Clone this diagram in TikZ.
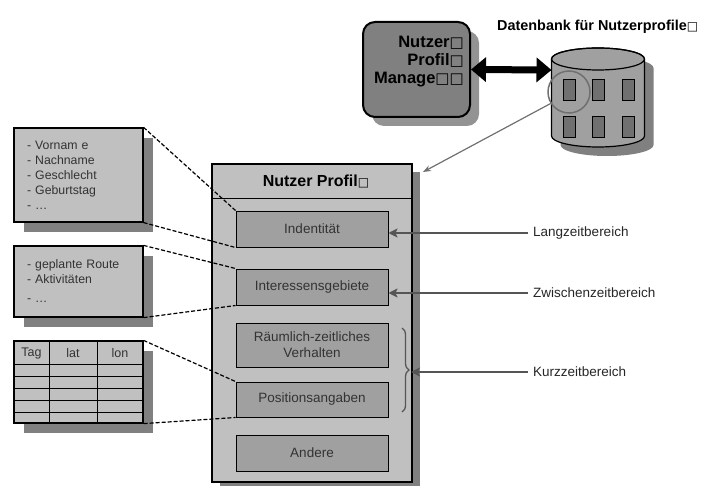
\documentclass[tikz,border=0pt]{standalone}
\usepackage{fontspec}
\setmainfont{Liberation Sans}
\newfontfamily\symf{DejaVu Sans}
\usetikzlibrary{arrows.meta,shadows,decorations.pathreplacing}
\definecolor{lg}{HTML}{C0C0C0}
\definecolor{mg}{HTML}{A0A0A0}
\definecolor{dg}{HTML}{808080}
\definecolor{wg}{HTML}{707070}
\definecolor{ag}{HTML}{555555}
\newcommand{\mbx}{{\symf\fontsize{15}{15}\selectfont □}}
\newcommand{\sbx}{{\symf\fontsize{12}{12}\selectfont □}}
\tikzset{
  lightbox/.style={draw=black, line width=1.2pt, fill=lg, inner sep=0pt,
     drop shadow={shadow xshift=10pt, shadow yshift=-10pt, fill=dg, opacity=1}},
  innerbox/.style={draw=black, line width=1pt, fill=mg, inner sep=0pt,
     minimum width=152pt, text=black!80, align=center,
     font=\fontsize{13.5}{16}\selectfont},
  leftbox/.style={lightbox, minimum width=129pt, text width=103pt, inner xsep=13pt,
     align=left, text=black!80, font=\fontsize{12.3}{15}\selectfont},
  dashline/.style={draw=black, line width=1.2pt, dash pattern=on 4pt off 2pt},
  timearrow/.style={draw=ag, line width=2pt, -{Stealth[length=9pt, width=9pt, inset=2pt]}},
  tlabel/.style={anchor=west, inner xsep=5pt, text=black!85, font=\fontsize{13.5}{16}\selectfont},
}
\begin{document}
\begin{tikzpicture}[x=1pt, y=-1pt]
\useasboundingbox (0,0) rectangle (708,486);

% ---------- profile manager ----------
\node[draw=black, line width=2pt, rounded corners=12pt, fill=dg, inner sep=0pt,
      minimum width=107pt, minimum height=95pt,
      drop shadow={shadow xshift=9pt, shadow yshift=-9pt, fill=dg!85, opacity=1}] (mgr) at (416.5,69.5) {};
\node[anchor=east, align=right, inner sep=0pt, font=\bfseries\fontsize{16.5}{18}\selectfont] (mgrtxt) at (464,62)
  {Nutzer\mbx\\Profil\mbx\\Manage\mbx\mbx};

% ---------- database ----------
\node[anchor=west, inner sep=0pt, font=\bfseries\fontsize{14.4}{16}\selectfont] (dbtitle) at (497,27)
  {Datenbank für Nutzerprofile\sbx};
\fill[dg, shift={(9,9)}] (551.5,59) -- (551.5,136) arc[start angle=180, end angle=360, x radius=46.5pt, y radius=11pt]
   -- (644.5,59) arc[start angle=0, end angle=180, x radius=46.5pt, y radius=11pt] -- cycle;
\filldraw[fill=mg, draw=black, line width=1.2pt] (551.5,59) -- (551.5,136) arc[start angle=180, end angle=360, x radius=46.5pt, y radius=11pt]
   -- (644.5,59) arc[start angle=0, end angle=180, x radius=46.5pt, y radius=11pt] -- cycle;
\draw[line width=1.2pt] (598,59) ellipse[x radius=46.5pt, y radius=11pt];
\foreach \cx in {569,598.5,628}{
  \foreach \cy in {90.5,127.5}{
    \draw[fill=wg, line width=1pt] (\cx-6,\cy-10.5) rectangle (\cx+6,\cy+10.5);
  }
}
\coordinate (dbw) at (551.5,70);
\node[circle, draw=wg, line width=1.5pt, minimum size=42pt, inner sep=0pt] (zoomc) at (569,92) {};

\draw[line width=7pt, {Triangle[length=15pt, width=24pt]}-{Triangle[length=15pt, width=24pt]}] (mgr.east) -- (dbw);

% ---------- user profile ----------
\node[draw=black, line width=1.5pt, fill=lg, inner sep=0pt, minimum width=200pt, minimum height=318pt,
      drop shadow={shadow xshift=8pt, shadow yshift=-8pt, fill=dg, opacity=1}] (main) at (312,323) {};
\draw[line width=1pt] ([yshift=-35pt]main.north west) -- ([yshift=-35pt]main.north east);
\node[font=\bfseries\fontsize{16}{18}\selectfont, inner sep=0pt] (maintitle) at (316,181) {Nutzer Profil\sbx};

\coordinate (tipA) at (423,172);
\draw[draw=wg, line width=1.2pt, -{Stealth[length=8pt, width=6pt]}] (zoomc.212) -- (tipA);

\node[innerbox, minimum height=36pt] (ind) at (312,229) {Indentität};
\node[innerbox, minimum height=36pt] (int) at (312,287) {Interessensgebiete};
\node[innerbox, minimum height=44pt] (rz)  at (312,345) {Räumlich-zeitliches\\Verhalten};
\node[innerbox, minimum height=35pt] (pos) at (312,399.5) {Positionsangaben};
\node[innerbox, minimum height=36pt] (and) at (312,453) {Andere};

\draw[draw=ag, line width=1.3pt, decorate, decoration={brace, amplitude=7pt}] (402,328) -- (402,412);
\coordinate (btip) at (411,372);

% ---------- time labels ----------
\node[tlabel] (lz) at (528,233) {Langzeitbereich};
\node[tlabel] (zw) at (528,293) {Zwischenzeitbereich};
\node[tlabel] (kz) at (528,372) {Kurzzeitbereich};
\draw[timearrow] (lz.west) -- (lz.west -| ind.east);
\draw[timearrow] (zw.west) -- (zw.west -| int.east);
\draw[timearrow] (kz.west) -- (btip);

% ---------- left boxes ----------
\node[leftbox, minimum height=94pt] (b1) at (78.5,175)
  {- Vornam e\\- Nachname\\- Geschlecht\\- Geburtstag\\- …};
\node[leftbox, minimum height=71pt] (b2) at (78.5,281.5)
  {- geplante Route\\- Aktivitäten\\[4pt]- …};
\node[lightbox, minimum width=129pt, minimum height=82pt] (tbl) at (78.5,382) {};
\foreach \ry in {364,376,388,400,412}{
  \draw[line width=1pt] (14,\ry) -- (143,\ry);
}
\draw[line width=1pt] (49,341) -- (49,423);
\draw[line width=1pt] (97,341) -- (97,423);
\node[text=black!80, font=\fontsize{12.5}{14}\selectfont] (hTag) at (31.5,353) {Tag};
\node[text=black!80, font=\fontsize{12.5}{14}\selectfont] (hlat) at (73,353) {lat};
\node[text=black!80, font=\fontsize{12.5}{14}\selectfont] (hlon) at (120,353) {lon};

% ---------- dashed connectors ----------
\draw[dashline] (b1.north east) -- (ind.north west);
\draw[dashline] (b1.south east) -- (ind.south west);
\draw[dashline] (b2.north east) -- (int.north west);
\draw[dashline] (b2.south east) -- (int.south west);
\draw[dashline] (tbl.north east) -- (pos.north west);
\draw[dashline] (tbl.south east) -- (pos.south west);
\end{tikzpicture}
\end{document}
